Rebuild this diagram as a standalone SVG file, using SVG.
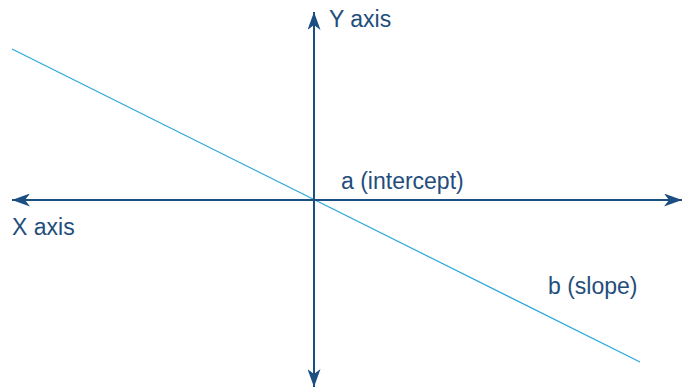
<svg xmlns="http://www.w3.org/2000/svg" width="683" height="388" viewBox="0 0 683 388">
<style>
.axis{stroke:#1b4f82;stroke-width:2;fill:none}
.trend{stroke:#29a8e0;stroke-width:1.2;fill:none}
.lbl{font-family:"Liberation Sans",Arial,sans-serif;font-size:23px;fill:#1f4e7c}
</style>
<defs>
<marker id="ah" viewBox="0 0 18 13" refX="18" refY="6.5" markerWidth="18" markerHeight="13" markerUnits="userSpaceOnUse" orient="auto-start-reverse">
<path d="M0,0 L18,6.5 L0,13 L5,6.5 z" fill="#1b4f82"/>
</marker>
</defs>
<rect width="683" height="388" fill="#ffffff"/>
<g id="connectors">
<line class="trend" x1="12" y1="49" x2="640" y2="362"/>
<line id="x-axis" class="axis" x1="12" y1="200" x2="682" y2="200" marker-start="url(#ah)" marker-end="url(#ah)"/>
<line id="y-axis" class="axis" x1="314" y1="12" x2="314" y2="387" marker-start="url(#ah)" marker-end="url(#ah)"/>
</g>
<g id="label-y"><text class="lbl" x="329" y="27">Y axis</text></g>
<g id="label-x"><text class="lbl" x="12" y="235">X axis</text></g>
<g id="label-a"><text class="lbl" x="341" y="189">a (intercept)</text></g>
<g id="label-b"><text class="lbl" x="548" y="294">b (slope)</text></g>
</svg>
